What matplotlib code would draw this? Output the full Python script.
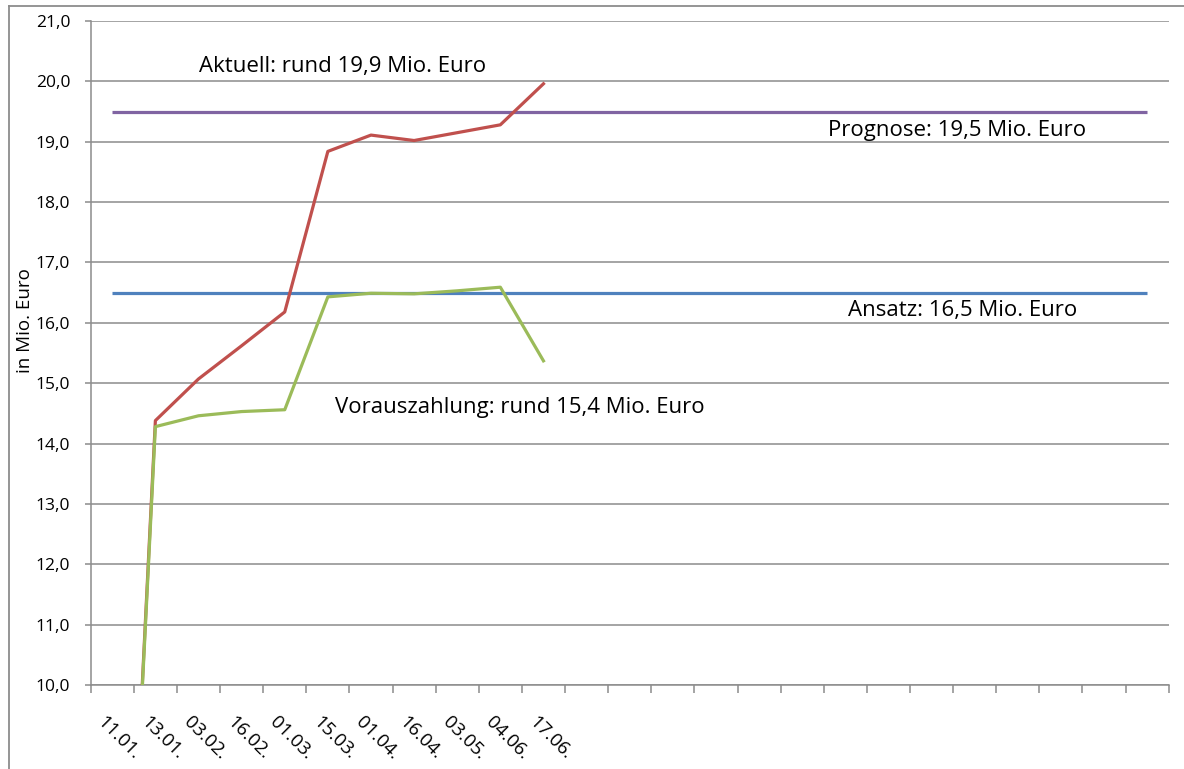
"""
Chart: Aktuell vs. Vorauszahlung, mit Ansatz und Prognose (in Mio. Euro).
"""

import matplotlib
matplotlib.use("Agg")
import matplotlib.pyplot as plt
import matplotlib.transforms as mtransforms
from matplotlib.lines import Line2D

plt.rcParams['font.family'] = ['Open Sans', 'DejaVu Sans']

# data
n_slots = 25
dates = ["11.01.", "13.01.", "03.02.", "16.02.", "01.03.", "15.03.",
         "01.04.", "16.04.", "03.05.", "04.06.", "17.06."]
aktuell = [0, 14.38, 15.07, 15.62, 16.18, 18.84, 19.11, 19.02, 19.15, 19.28, 19.96]
vorauszahlung = [0, 14.28, 14.46, 14.53, 14.56, 16.43, 16.49, 16.48, 16.53, 16.59, 15.37]
ansatz = [16.5] * n_slots
prognose = [19.5] * n_slots

C_RED = "#C0504D"
C_GREEN = "#9BBB59"
C_BLUE = "#4F81BD"
C_PURPLE = "#8064A2"
C_GRID = "#8C8C8C"


def draw_chart():

    fig = plt.figure(figsize=(11.84, 7.69), dpi=100)
    ax = fig.add_axes([90.7 / 1184, 1 - 685 / 769, 1078 / 1184, 664 / 769])

    x_all = list(range(n_slots))
    x_dates = list(range(len(dates)))

    ax.plot(x_all, prognose, color=C_PURPLE, lw=2.3, solid_capstyle='butt', zorder=3)
    ax.plot(x_all, ansatz, color=C_BLUE, lw=2.3, solid_capstyle='butt', zorder=3)
    ax.plot(x_dates, aktuell, color=C_RED, lw=2.3, zorder=4)
    ax.plot(x_dates, vorauszahlung, color=C_GREEN, lw=2.3, zorder=5)

    ax.set_xlim(-0.5, n_slots - 0.5)
    ax.set_ylim(10, 21)

    ax.set_yticks(range(10, 22))
    ax.set_yticklabels([f"{v},0" for v in range(10, 22)], fontsize=12.5)
    ax.yaxis.grid(True, color=C_GRID, lw=1.1)
    ax.set_axisbelow(True)

    # ticks between categories, labels at category centres
    ax.set_xticks([i - 0.5 for i in range(n_slots + 1)])
    ax.set_xticklabels([])
    ax.tick_params(axis='x', length=5.8, color=C_GRID, width=1.1)
    ax.tick_params(axis='y', length=4.3, color=C_GRID, width=1.1, pad=10.5)

    # rotated category labels, Excel style
    base = mtransforms.blended_transform_factory(ax.transData, ax.transAxes)
    offset = mtransforms.ScaledTranslation(-12 / 100, -34 / 100, fig.dpi_scale_trans)
    for i, lab in enumerate(dates):
        ax.text(i, 0, lab, transform=base + offset, rotation=-45,
                rotation_mode='anchor', ha='left', va='center',
                fontsize=13.5, clip_on=False)

    for side in ("top", "right"):
        ax.spines[side].set_visible(False)
    for side in ("left", "bottom"):
        ax.spines[side].set_color(C_GRID)
        ax.spines[side].set_linewidth(1.1)

    ax.set_ylabel("in Mio. Euro", fontsize=13.5)
    ax.yaxis.set_label_coords(-57 / 1078, (685 - 321) / 664)

    txt = dict(fontsize=16, ha='center', va='center', color='black', zorder=6)
    ax.text(5.34, 20.24, "Aktuell: rund 19,9 Mio. Euro", **txt)
    ax.text(19.6, 19.19, "Prognose: 19,5 Mio. Euro", **txt)
    ax.text(19.71, 16.2, "Ansatz: 16,5 Mio. Euro", **txt)
    ax.text(9.44, 14.59, "Vorauszahlung: rund 15,4 Mio. Euro", **txt)

    # outer chart border (left and top visible)
    fig.add_artist(Line2D([8.5 / 1184, 8.5 / 1184], [0, 1 - 5.5 / 769],
                          color=C_GRID, lw=1.3, transform=fig.transFigure))
    fig.add_artist(Line2D([8.5 / 1184, 1], [1 - 5.5 / 769, 1 - 5.5 / 769],
                          color=C_GRID, lw=1.3, transform=fig.transFigure))

    fig.savefig("out.png", dpi=100)


def main():
    draw_chart()


if __name__ == "__main__":
    main()
